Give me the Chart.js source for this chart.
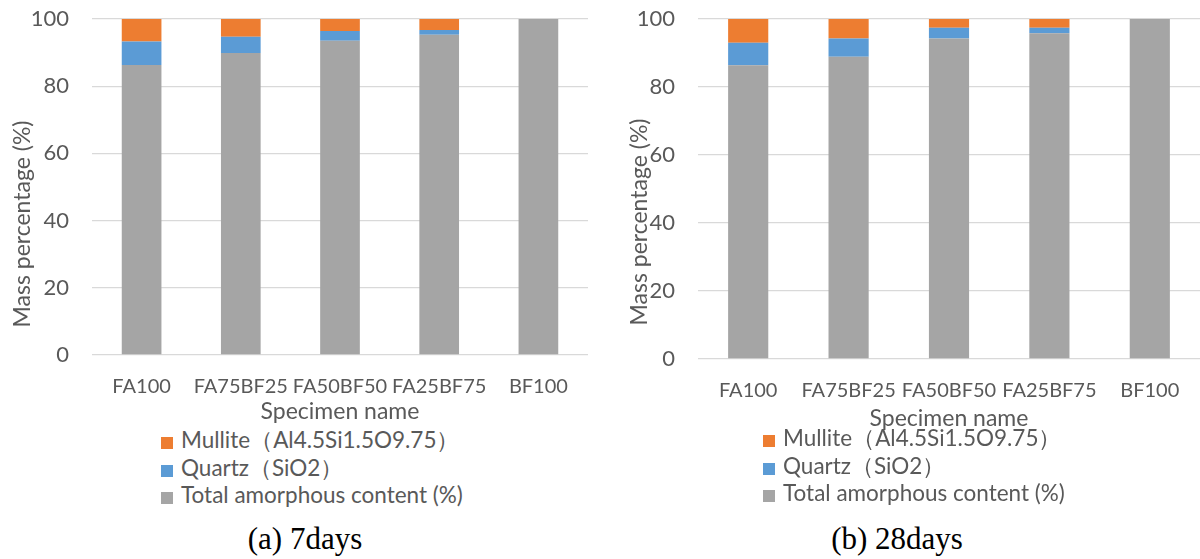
<!DOCTYPE html>
<html>
<head>
<meta charset="utf-8">
<script src="https://cdn.jsdelivr.net/npm/chart.js@4.4.0/dist/chart.umd.min.js"></script>
<style>
  body { margin: 0; background: #fff; width: 1200px; height: 559px; overflow: hidden; position: relative; font-family: Lato, sans-serif; }
  .panel { position: absolute; top: 0; width: 600px; }
  .legend { position: absolute; color: #595959; font-size: 22.5px; }
  .legend div { position: absolute; white-space: nowrap; line-height: 26px; }
  .legend span { display: inline-block; width: 12px; height: 12px; margin-right: 8px; vertical-align: -1px; }
  .caption { position: absolute; top: 521px; font-family: "Liberation Serif", serif; font-size: 31px; color: #000; transform: translateX(-50%); white-space: nowrap; }
</style>
</head>
<body>
<div class="panel" style="left:0;height:425px"><canvas id="chart7"></canvas></div>
<div class="panel" style="left:600px;height:432px"><canvas id="chart28"></canvas></div>
<div class="legend" id="legend7" style="left:161px;top:427px"></div>
<div class="legend" id="legend28" style="left:763px;top:425px"></div>
<div class="caption" style="left:305px">(a) 7days</div>
<div class="caption" style="left:897px">(b) 28days</div>
<script>
const specimens = ['FA100', 'FA75BF25', 'FA50BF50', 'FA25BF75', 'BF100'];
const seriesNames = ['Total amorphous content (%)', 'Quartz（SiO2）', 'Mullite（Al4.5Si1.5O9.75）'];
const seriesColors = ['#A5A5A5', '#5B9BD5', '#ED7D31'];
const yTicks = [0, 20, 40, 60, 80, 100];

// 7 days
const amorphous7 = [86.3, 89.9, 93.5, 95.3, 100];
const quartz7 = [7.0, 4.8, 2.9, 1.4, 0];
const mullite7 = [6.7, 5.3, 3.6, 3.3, 0];

// 28 days
const amorphous28 = [86.4, 88.9, 94.3, 95.8, 100];
const quartz28 = [6.6, 5.4, 3.1, 1.6, 0];
const mullite28 = [7.0, 5.7, 2.6, 2.6, 0];

const textColor = '#595959';
const xFont = {family: 'Lato, sans-serif', size: 20};
const yFont = {family: 'Lato, sans-serif', size: 22};
const titleFont = {family: 'Lato, sans-serif', size: 23};

// rotated y title, placed a bit lower than the axis middle
const yTitlePlugin = {
    id: 'yTitle',
    afterDraw(chart, args, opts) {
        const ctx = chart.ctx;
        ctx.save();
        ctx.translate(opts.x, opts.y);
        ctx.rotate(-Math.PI / 2);
        ctx.font = '23px Lato, sans-serif';
        ctx.fillStyle = textColor;
        ctx.textAlign = 'center';
        ctx.textBaseline = 'middle';
        ctx.fillText('Mass percentage (%)', 0, 0);
        ctx.restore();
    }
};

function createChart(chartId, values, layout) {
    const ctx = document.getElementById(chartId).getContext('2d');
    const datasets = values.map((v, i) => ({
        label: seriesNames[i],
        data: v,
        backgroundColor: seriesColors[i],
        borderWidth: 0,
        barPercentage: 0.8,
        categoryPercentage: 0.5
    }));
    return new Chart(ctx, {
        type: 'bar',
        data: {labels: specimens, datasets: datasets},
        plugins: [yTitlePlugin],
        options: {
            responsive: true,
            maintainAspectRatio: false,
            animation: false,
            layout: {padding: {top: 19, left: 0, right: layout.right, bottom: 0}},
            plugins: {
                legend: {display: false},
                tooltip: {enabled: false},
                yTitle: {x: layout.titleX, y: layout.titleY}
            },
            scales: {
                x: {
                    stacked: true,
                    grid: {display: false},
                    border: {display: false},
                    ticks: {color: textColor, font: xFont, padding: layout.tickPad, maxRotation: 0, autoSkip: false},
                    title: {display: true, text: 'Specimen name', color: textColor, font: titleFont, padding: 0},
                    afterFit: s => { s.height = layout.xHeight; }
                },
                y: {
                    stacked: true,
                    min: 0,
                    max: 100,
                    afterBuildTicks: s => { s.ticks = yTicks.map(v => ({value: v})); },
                    grid: {color: '#D9D9D9', lineWidth: 1.3, drawTicks: false},
                    border: {display: false},
                    ticks: {color: textColor, font: yFont, padding: 23},
                    afterFit: s => {
                        s.width = layout.yWidth;
                        // tick padding should only push labels sideways
                        s.paddingTop = 0;
                        s.paddingBottom = 0;
                    }
                }
            }
        }
    });
}

function buildLegend(chart, elId) {
    const el = document.getElementById(elId);
    const sets = chart.data.datasets.slice().reverse();
    sets.forEach((ds, i) => {
        const row = document.createElement('div');
        row.style.top = (i * 27.5) + 'px';
        row.innerHTML = '<span style="background:' + ds.backgroundColor + '"></span>' + ds.label;
        el.appendChild(row);
    });
}

const chart7 = createChart('chart7', [amorphous7, quartz7, mullite7],
    {right: 12, yWidth: 92, xHeight: 70, tickPad: 12, titleX: 23, titleY: 224});
const chart28 = createChart('chart28', [amorphous28, quartz28, mullite28],
    {right: 0, yWidth: 98, xHeight: 73, tickPad: 12, titleX: 40, titleY: 222});
buildLegend(chart7, 'legend7');
buildLegend(chart28, 'legend28');
</script>
</body>
</html>
